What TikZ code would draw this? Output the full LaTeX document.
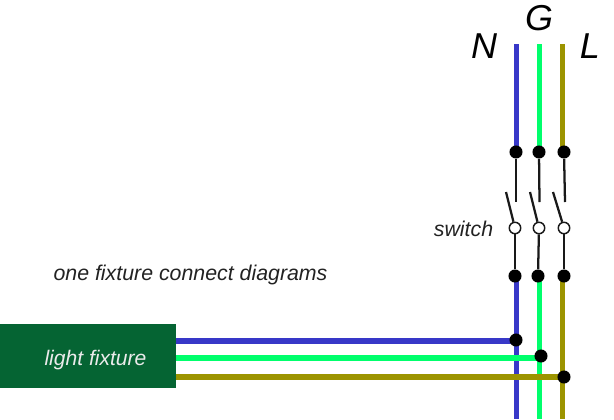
\documentclass[tikz,border=0pt]{standalone}
\usepackage{fontspec}
\setmainfont{Liberation Sans}
\usetikzlibrary{backgrounds}
\definecolor{wblue}{HTML}{3838C8}
\definecolor{wgreen}{HTML}{00FF6C}
\definecolor{wolive}{HTML}{9C9400}
\definecolor{fixt}{HTML}{056433}
\definecolor{txtd}{HTML}{222222}
\tikzset{
  x=0.75pt,y=-0.75pt,
  wire/.style={line width=4pt},
  stem/.style={line width=1.7pt,black!90},
  soliddot/.style={circle,fill=black,draw=none,minimum size=9.8pt,inner sep=0pt},
  opendot/.style={circle,fill=white,draw=black!90,line width=1.1pt,minimum size=8.6pt,inner sep=0pt},
  phase/.style={font=\fontsize{27}{30}\selectfont\itshape,text=black,inner sep=0pt},
  caption/.style={font=\fontsize{16}{18}\selectfont\itshape,text=txtd,inner sep=0pt},
  fixture/.style={fill=fixt,draw=none,inner sep=0pt},
  fixturetext/.style={inner sep=0pt,text=white!92!black,font=\fontsize{15.8}{18}\selectfont\itshape}
}
\begin{document}
\begin{tikzpicture}
\useasboundingbox (0,0) rectangle (614,419);
% free ends
\coordinate (nt) at (516.5,44); \coordinate (gt) at (539.5,44); \coordinate (lt) at (562.5,44);
\coordinate (nb) at (516.5,419); \coordinate (gb) at (539.5,419); \coordinate (lb) at (562.5,419);
% dots
\node[soliddot] (n1) at (516,152) {};
\node[soliddot] (g1) at (539,152) {};
\node[soliddot] (l1) at (564,152) {};
\node[soliddot] (n2) at (515,276) {};
\node[soliddot] (g2) at (538,276) {};
\node[soliddot] (l2) at (564,276) {};
\node[soliddot] (n3) at (516,340) {};
\node[soliddot] (g3) at (541,356) {};
\node[soliddot] (l3) at (564,377) {};
\node[opendot] (ns) at (515,228) {};
\node[opendot] (gs) at (539,228) {};
\node[opendot] (ls) at (564,228) {};
% fixture
\node[fixture,minimum width=132pt,minimum height=48pt] (fx) at (88,356) {};
\node[fixturetext] (fxt) at (95.5,360) {light fixture};
% blade ends and wire joints
\coordinate (nu) at (516,202); \coordinate (gu) at (539.5,202); \coordinate (lu) at (565,202);
\coordinate (na) at (506,192); \coordinate (ga) at (530,192); \coordinate (la) at (553,192);
\coordinate (ne) at (516,341); \coordinate (ge) at (541,358); \coordinate (le) at (564,377);
\coordinate (ni) at (516.5,152); \coordinate (gi) at (539.5,152); \coordinate (li) at (562.5,152);
\coordinate (nj) at (516.5,276); \coordinate (gj) at (539.5,276); \coordinate (lj) at (562.5,276);
% wires, under the dots and the fixture
\begin{scope}[on background layer]
\draw[wire,wblue] (nt) -- (ni);
\draw[wire,wgreen] (gt) -- (gi);
\draw[wire,wolive] (lt) -- (li);
\draw[wire,wblue] (nj) -- (nb);
\draw[wire,wgreen] (gj) -- (gb);
\draw[wire,wolive] (lj) -- (lb);
\draw[wire,wblue] (fx.east |- ne) -- (ne);
\draw[wire,wgreen] (fx.east |- ge) -- (ge);
\draw[wire,wolive] (fx.east |- le) -- (le);
\draw[stem] (n1) -- (nu); \draw[stem] (g1) -- (gu); \draw[stem] (l1) -- (lu);
\draw[stem] (na) -- (ns); \draw[stem] (ga) -- (gs); \draw[stem] (la) -- (ls);
\draw[stem] (ns) -- (n2); \draw[stem] (gs) -- (g2); \draw[stem] (ls) -- (l2);
\end{scope}
% labels
\node[phase] (tn) at (484,46) {N};
\node[phase] (tg) at (539,18) {G};
\node[phase] (tl) at (590,46) {L};
\node[caption] (tsw) at (463.5,229) {switch};
\node[caption] (tcap) at (190.5,275) {one fixture connect diagrams};
\end{tikzpicture}
\end{document}
